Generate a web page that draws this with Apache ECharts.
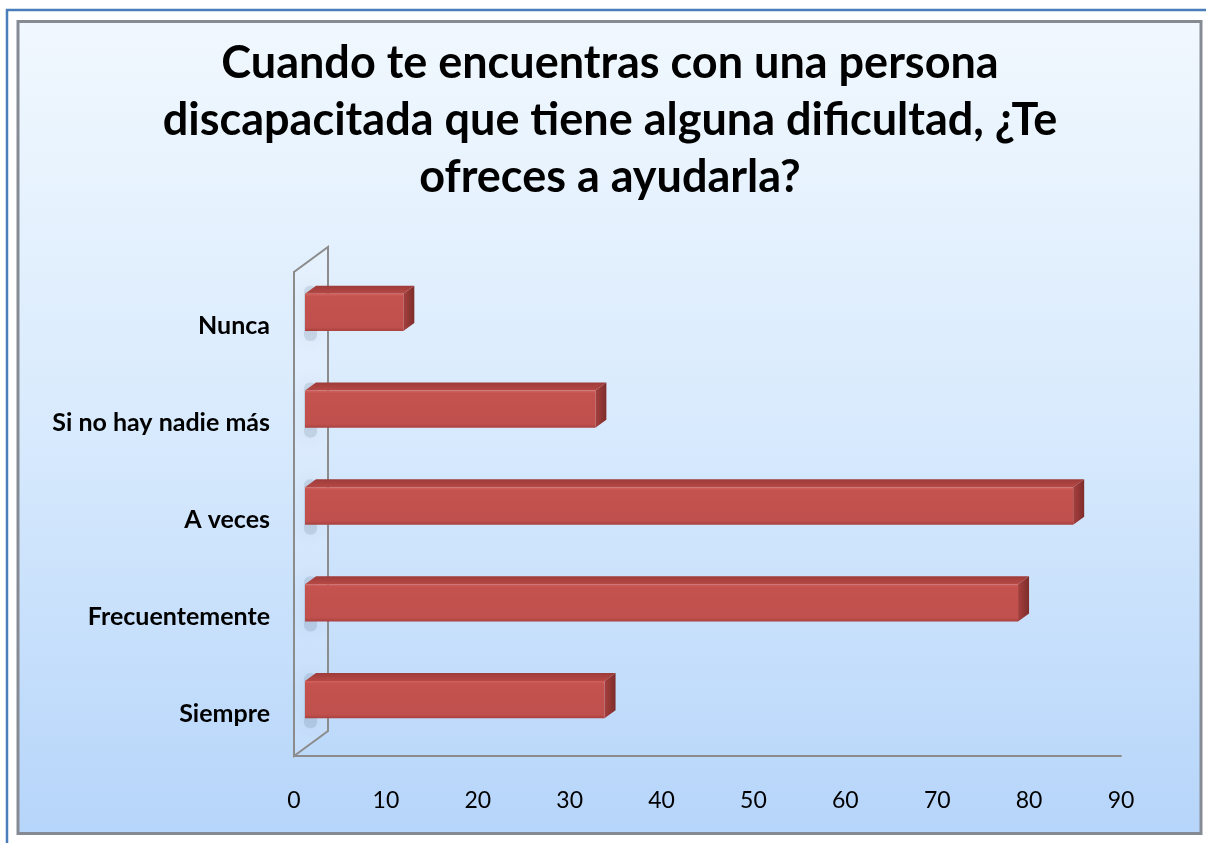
<!DOCTYPE html>
<html>
<head>
<meta charset="utf-8">
<script src="https://cdn.jsdelivr.net/npm/echarts@6/dist/echarts.min.js"></script>
<style>
  html, body { margin: 0; padding: 0; background: #fff; }
  #chart { width: 1206px; height: 843px; }
</style>
</head>
<body>
<div id="chart"></div>
<script>

// categories, top to bottom
var categories = ['Nunca', 'Si no hay nadie más', 'A veces', 'Frecuentemente', 'Siempre'];
var values = [10.7, 31.6, 83.6, 77.6, 32.6];
var xTicks = [0, 10, 20, 30, 40, 50, 60, 70, 80, 90];

var titleText = 'Cuando te encuentras con una persona\ndiscapacitada que tiene alguna dificultad, ¿Te\nofreces a ayudarla?';

var FONT = 'Lato, "Open Sans", sans-serif';

// 3d offsets (oblique projection)
var BAR_SHIFT = [11, -8];   // front face of the bars vs. front plane
var BAR_DEPTH = [11, -8];   // depth of each bar
var WALL_DEPTH = [34, -25]; // back wall

function renderBar(params, api) {
	var v = api.value(0);
	var ci = api.value(1);
	var start = api.coord([0, ci]);
	var end = api.coord([v, ci]);
	var band = api.size([0, 1])[1];
	var h = band * 0.385;

	var xl = start[0] + BAR_SHIFT[0];
	var xr = end[0] + BAR_SHIFT[0];
	var yt = start[1] + BAR_SHIFT[1] - h / 2;
	var yb = yt + h;
	var dx = BAR_DEPTH[0], dy = BAR_DEPTH[1];

	return {
		type: 'group',
		children: [
			// soft shadow on the wall
			{
				type: 'rect',
				shape: { x: start[0] + 10, y: yt - 8, width: 13, height: h + 18, r: 6 },
				style: { fill: 'rgba(80,100,130,0.16)', shadowBlur: 16, shadowColor: 'rgba(60,80,110,0.6)' }
			},
			// top face
			{
				type: 'polygon',
				shape: { points: [[xl, yt], [xl + dx, yt + dy], [xr + dx, yt + dy], [xr, yt]] },
				style: {
					fill: { type: 'linear', x: 0, y: 0, x2: 0, y2: 1, colorStops: [
						{ offset: 0, color: '#9e3b39' }, { offset: 1, color: '#b54946' }] }
				}
			},
			// right side
			{
				type: 'polygon',
				shape: { points: [[xr, yt], [xr + dx, yt + dy], [xr + dx, yb + dy], [xr, yb]] },
				style: {
					fill: { type: 'linear', x: 0, y: 0, x2: 1, y2: 0, colorStops: [
						{ offset: 0, color: '#a5403e' }, { offset: 1, color: '#7e2d2b' }] }
				}
			},
			// front face
			{
				type: 'rect',
				shape: { x: xl, y: yt, width: xr - xl, height: h },
				style: {
					fill: { type: 'linear', x: 0, y: 0, x2: 0, y2: 1, colorStops: [
						{ offset: 0, color: '#d2605c' },
						{ offset: 0.08, color: '#c4524f' },
						{ offset: 0.9, color: '#c0504d' },
						{ offset: 1, color: '#a8413f' }] }
				}
			}
		]
	};
}

function renderWall(params, api) {
	var cs = params.coordSys;
	var x0 = api.coord([0, 0])[0];
	var top = cs.y, bottom = cs.y + cs.height;
	return {
		type: 'polygon',
		shape: { points: [
			[x0, bottom],
			[x0 + WALL_DEPTH[0], bottom + WALL_DEPTH[1]],
			[x0 + WALL_DEPTH[0], top + WALL_DEPTH[1]],
			[x0, top]
		] },
		style: { fill: 'rgba(255,255,255,0.12)', stroke: '#8c8c8c', lineWidth: 2 }
	};
}

var myChart = echarts.init(document.getElementById('chart'));

var option = {
	backgroundColor: '#ffffff',
	animation: false,
	graphic: [
		{
			type: 'rect', z: -10,
			shape: { x: 7, y: 10, width: 1210, height: 840 },
			style: { fill: '#ffffff', stroke: '#4a7ebb', lineWidth: 2.5 }
		},
		{
			type: 'rect', z: -9,
			shape: { x: 18, y: 21.5, width: 1183, height: 812 },
			style: {
				fill: { type: 'linear', x: 0, y: 0, x2: 0, y2: 1, colorStops: [
					{ offset: 0, color: '#f1f8fe' },
					{ offset: 0.5, color: '#d8eafd' },
					{ offset: 1, color: '#b6d5fa' }] },
				stroke: '#868b93', lineWidth: 3
			}
		}
	],
	title: {
		text: titleText,
		left: 605,
		top: 30,
		textAlign: 'center',
		textStyle: {
			fontFamily: FONT,
			fontSize: 45,
			fontWeight: 'bold',
			color: '#000',
			lineHeight: 57,
			align: 'center'
		}
	},
	grid: {
		left: 294,
		right: 85,
		top: 272,
		bottom: 87,
		containLabel: false
	},
	xAxis: {
		type: 'value',
		min: 0,
		max: 90,
		interval: 10,
		axisLine: { show: true, lineStyle: { color: '#8c8c8c', width: 2 } },
		axisTick: { show: false },
		splitLine: { show: false },
		axisLabel: {
			margin: 33,
			fontFamily: FONT,
			fontSize: 23,
			color: '#000',
			formatter: function (v) { return xTicks.indexOf(v) >= 0 ? String(v) : ''; }
		}
	},
	yAxis: {
		type: 'category',
		inverse: true,
		data: categories,
		axisLine: { show: true, lineStyle: { color: '#8c8c8c', width: 2 } },
		axisTick: { show: false },
		axisLabel: {
			margin: 24,
			fontFamily: FONT,
			fontSize: 25,
			fontWeight: 'bold',
			color: '#000',
			lineHeight: 36,
			verticalAlign: 'top',
			padding: [-12, 0, 0, 0]
		}
	},
	series: [
		{
			type: 'custom',
			name: 'wall',
			renderItem: renderWall,
			data: [[0, 0]],
			encode: { x: 0, y: 1 },
			silent: true,
			z: 1
		},
		{
			type: 'custom',
			name: 'Respuestas',
			renderItem: renderBar,
			data: values.map(function (v, i) { return [v, i]; }),
			encode: { x: 0, y: 1 },
			z: 2
		}
	]
};

myChart.setOption(option);

</script>
</body>
</html>
